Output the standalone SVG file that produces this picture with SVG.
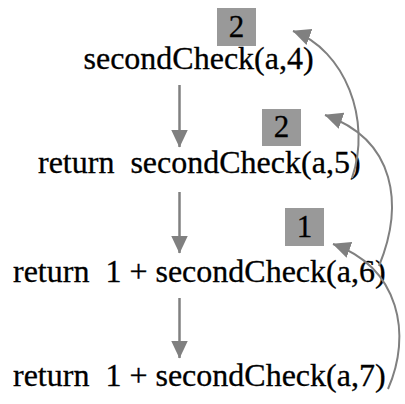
<svg xmlns="http://www.w3.org/2000/svg" width="405" height="404" viewBox="0 0 405 404">
  <style>
    .call { font-size: 32px; fill: #000; stroke: #000; stroke-width: 0.3; white-space: pre; }
    .badge rect { fill: #999999; }
    .badge text { font-size: 31px; fill: #000; stroke: #000; stroke-width: 0.3; text-anchor: middle; }
    .link { fill: none; stroke: #808080; stroke-width: 2.5; marker-end: url(#head); }
    .ret { fill: none; stroke: #808080; stroke-width: 2; marker-end: url(#head); }
  </style>
  <defs>
    <marker id="head" markerUnits="userSpaceOnUse" markerWidth="18" markerHeight="18" viewBox="0 0 17 16" refX="16.5" refY="8" orient="auto">
      <path d="M0,0 L17,8 L0,16 Z" fill="#808080"/>
    </marker>
  </defs>

  <rect width="405" height="404" fill="#ffffff"/>

  <g font-family="'Liberation Serif', Tinos, 'Times New Roman', Times, 'DejaVu Serif', serif">
    <!-- recursive calls -->
    <g id="call4"><text class="call" x="83.5" y="69">secondCheck(a,4)</text></g>
    <g id="call5"><text class="call" x="38" y="173">return  secondCheck(a,5)</text></g>
    <g id="call6"><text class="call" x="13" y="282">return  1 + secondCheck(a,6)</text></g>
    <g id="call7"><text class="call" x="13" y="386">return  1 + secondCheck(a,7)</text></g>

    <!-- returned values -->
    <g id="val4" class="badge"><rect x="217" y="8" width="39" height="38"/><text x="236.5" y="37">2</text></g>
    <g id="val5" class="badge"><rect x="262" y="109" width="39" height="37"/><text x="281.5" y="137">2</text></g>
    <g id="val6" class="badge"><rect x="285" y="208" width="39" height="38"/><text x="304.5" y="237">1</text></g>
  </g>

  <g id="connectors">
    <!-- call arrows -->
    <path class="link" d="M179.5,85 V147"/>
    <path class="link" d="M179.5,192 V253"/>
    <path class="link" d="M179.5,298 V358"/>
    <!-- return arrows -->
    <path class="ret" d="M352,178 C372,120 345,50 293,31"/>
    <path class="ret" d="M379,266 C404,205 396,140 325,115"/>
    <path class="ret" d="M388,389 C412,335 400,268 333,244"/>
  </g>
</svg>
